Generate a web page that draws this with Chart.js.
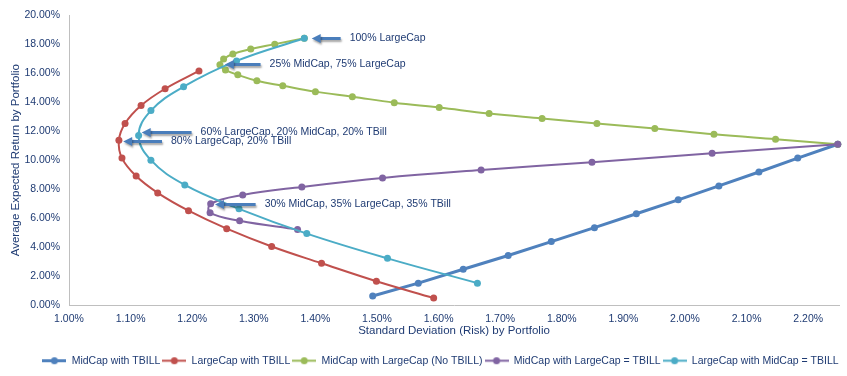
<!DOCTYPE html>
<html>
<head>
<meta charset="utf-8">
<script src="https://cdn.jsdelivr.net/npm/chart.js@4.4.1/dist/chart.umd.min.js"></script>
<style>
  html, body { margin: 0; padding: 0; background: #fff; }
</style>
</head>
<body>
<canvas id="myChart" width="847" height="376"></canvas>
<script>
// values, in percent
const seriesNames = ['MidCap with TBILL', 'LargeCap with TBILL', 'MidCap with LargeCap (No TBILL)', 'MidCap with LargeCap = TBILL', 'LargeCap with MidCap = TBILL']

const midTbillRisk = [1.493, 1.567, 1.640, 1.713, 1.783, 1.853, 1.921, 1.989, 2.055, 2.120, 2.183, 2.248]
const midTbillReturn = [0.62, 1.51, 2.47, 3.42, 4.38, 5.34, 6.30, 7.26, 8.22, 9.18, 10.14, 11.10]

const largeTbillRisk = [1.211, 1.156, 1.117, 1.091, 1.081, 1.086, 1.109, 1.144, 1.194, 1.256, 1.329, 1.410, 1.499, 1.592]
const largeTbillReturn = [16.16, 14.93, 13.77, 12.53, 11.37, 10.14, 8.90, 7.74, 6.51, 5.27, 4.04, 2.88, 1.64, 0.48]

const midLargeRisk = [1.382, 1.334, 1.295, 1.266, 1.251, 1.245, 1.254, 1.274, 1.305, 1.347, 1.400, 1.460, 1.528, 1.601, 1.682, 1.768, 1.857, 1.951, 2.047, 2.147, 2.248]
const midLargeReturn = [18.42, 18.01, 17.67, 17.33, 16.99, 16.58, 16.23, 15.89, 15.48, 15.14, 14.73, 14.38, 13.97, 13.63, 13.22, 12.88, 12.53, 12.19, 11.78, 11.44, 11.10]

const midLargeEqRisk = [1.371, 1.277, 1.229, 1.230, 1.282, 1.378, 1.509, 1.669, 1.849, 2.044, 2.248]
const midLargeEqReturn = [5.21, 5.82, 6.37, 6.99, 7.60, 8.15, 8.77, 9.32, 9.86, 10.48, 11.10]

const largeMidEqRisk = [1.382, 1.272, 1.186, 1.133, 1.113, 1.133, 1.188, 1.276, 1.386, 1.517, 1.663]
const largeMidEqReturn = [18.42, 16.85, 15.07, 13.42, 11.71, 10.00, 8.29, 6.64, 4.93, 3.22, 1.51]

// callouts: text, arrow tip and arrow tail (in data units)
const noteText = ['100% LargeCap', '25% MidCap, 75% LargeCap', '60% LargeCap, 20% MidCap, 20% TBill', '80% LargeCap, 20% TBill', '30% MidCap, 35% LargeCap, 35% TBill']
const noteTipRisk = [1.394, 1.253, 1.118, 1.088, 1.237]
const noteTailRisk = [1.441, 1.311, 1.199, 1.151, 1.303]
const noteReturn = [18.42, 16.64, 11.92, 11.30, 6.99]

const colors = ['#4F81BD', '#C0504D', '#9BBB59', '#8064A2', '#4BACC6']
const textColor = '#1F3B73'
const fontFamily = '"Liberation Sans", Arial, sans-serif'

function toPoints(xs, ys) {
    return xs.map((x, i) => ({ x: x, y: ys[i] }))
}

const allRisk = [midTbillRisk, largeTbillRisk, midLargeRisk, midLargeEqRisk, largeMidEqRisk]
const allReturn = [midTbillReturn, largeTbillReturn, midLargeReturn, midLargeEqReturn, largeMidEqReturn]

const datasets = seriesNames.map((name, i) => ({
    label: name,
    data: toPoints(allRisk[i], allReturn[i]),
    showLine: true,
    borderColor: colors[i],
    backgroundColor: colors[i],
    borderWidth: i === 0 ? 3 : 2,
    pointRadius: 3.5,
    pointBorderWidth: 0,
    tension: i === 0 ? 0 : 0.4,
    clip: false,
    order: seriesNames.length - i
}))

// little line-and-dot marks for the legend
function legendMark(ds) {
    const c = document.createElement('canvas')
    c.width = 24
    c.height = 9
    const g = c.getContext('2d')
    g.strokeStyle = ds.borderColor
    g.lineWidth = ds.borderWidth
    g.beginPath()
    g.moveTo(0, 4.5)
    g.lineTo(24, 4.5)
    g.stroke()
    g.fillStyle = ds.borderColor
    g.beginPath()
    g.arc(12, 4.5, 3.5, 0, Math.PI * 2)
    g.fill()
    return c
}

const noteArrows = {
    id: 'noteArrows',
    afterDatasetsDraw(chart) {
        const ctx = chart.ctx
        const xs = chart.scales.x
        const ys = chart.scales.y
        ctx.save()
        noteText.forEach((t, i) => {
            const tip = xs.getPixelForValue(noteTipRisk[i])
            const tail = xs.getPixelForValue(noteTailRisk[i])
            const py = Math.round(ys.getPixelForValue(noteReturn[i])) + 0.5
            ctx.shadowColor = 'rgba(0,0,0,0.35)'
            ctx.shadowOffsetX = 1
            ctx.shadowOffsetY = 2
            ctx.shadowBlur = 2
            ctx.strokeStyle = '#4A7EBB'
            ctx.fillStyle = '#4A7EBB'
            ctx.lineWidth = 3
            ctx.beginPath()
            ctx.moveTo(tail, py)
            ctx.lineTo(tip + 7, py)
            ctx.stroke()
            ctx.beginPath()
            ctx.moveTo(tip, py)
            ctx.lineTo(tip + 9, py - 4.5)
            ctx.lineTo(tip + 9, py + 4.5)
            ctx.closePath()
            ctx.fill()
            ctx.shadowColor = 'transparent'
            ctx.fillStyle = textColor
            ctx.font = '10.5px ' + fontFamily
            ctx.textBaseline = 'middle'
            ctx.textAlign = 'left'
            ctx.fillText(t, tail + 9, py)
        })
        ctx.restore()
    }
}

// the legend in the picture sits a bit right of centre
const legendNudge = {
    id: 'legendNudge',
    afterLayout(chart) {
        if (chart.legend) {
            chart.legend.left += 21
            chart.legend.right += 21
        }
    }
}

const chart = new Chart(document.getElementById('myChart'), {
    type: 'scatter',
    data: { datasets: datasets },
    plugins: [noteArrows, legendNudge],
    options: {
        responsive: false,
        animation: false,
        layout: { padding: { top: 13, right: 8, left: 0, bottom: 0 } },
        plugins: {
            tooltip: { enabled: false },
            legend: {
                position: 'bottom',
                labels: {
                    usePointStyle: true,
                    pointStyleWidth: 24,
                    padding: 2,
                    color: textColor,
                    font: { size: 10.5, family: fontFamily },
                    sort: (a, b) => a.datasetIndex - b.datasetIndex,
                    generateLabels(chart) {
                        const items = Chart.defaults.plugins.legend.labels.generateLabels(chart)
                        items.forEach(item => {
                            item.pointStyle = legendMark(chart.data.datasets[item.datasetIndex])
                        })
                        return items
                    }
                }
            }
        },
        scales: {
            x: {
                type: 'linear',
                min: 1.0,
                max: 2.25,
                grid: { display: false, drawTicks: false },
                border: { display: true, color: '#BFBFBF', width: 1 },
                ticks: {
                    stepSize: 0.1,
                    includeBounds: false,
                    maxRotation: 0,
                    autoSkip: false,
                    padding: 8,
                    color: textColor,
                    font: { size: 10.5, family: fontFamily },
                    callback: v => v.toFixed(2) + '%'
                },
                title: {
                    display: true,
                    text: 'Standard Deviation (Risk) by Portfolio',
                    color: textColor,
                    font: { size: 11.5, family: fontFamily },
                    padding: { top: 0, bottom: 16 }
                },
                afterFit: scale => { scale.height = 48.5 }
            },
            y: {
                min: 0,
                max: 20,
                grid: { display: false, drawTicks: false },
                border: { display: true, color: '#BFBFBF', width: 1 },
                ticks: {
                    stepSize: 2,
                    padding: 9,
                    color: textColor,
                    font: { size: 10.5, family: fontFamily },
                    callback: v => v.toFixed(2) + '%'
                },
                title: {
                    display: true,
                    text: 'Average Expected Return by Portfolio',
                    color: textColor,
                    font: { size: 11.5, family: fontFamily },
                    padding: { top: 9, bottom: 0 }
                },
                afterFit: scale => { scale.width = 69 }
            }
        }
    }
})
</script>
</body>
</html>
